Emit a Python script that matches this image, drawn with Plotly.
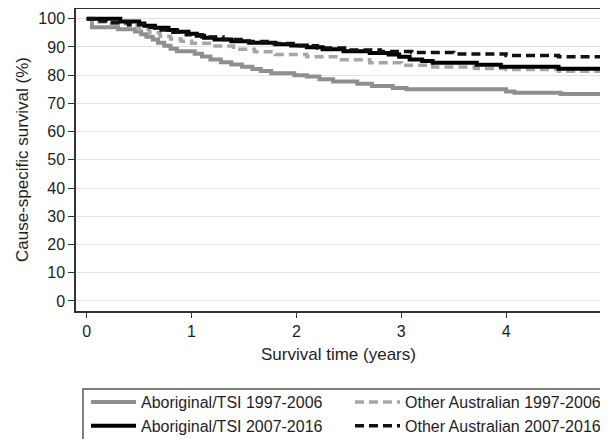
import plotly.graph_objects as go

# Kaplan-Meier style step curves (time in years, survival in %)
t_abor_9706 = [0, 0.05, 0.30, 0.46, 0.52, 0.57, 0.63, 0.68, 0.74, 0.80, 0.86, 1.03, 1.10, 1.18,
               1.28, 1.38, 1.48, 1.58, 1.66, 1.76, 1.98, 2.10, 2.22, 2.35, 2.58, 2.72, 2.92,
               3.05, 4.00, 4.08, 4.52, 5.0]
s_abor_9706 = [100, 97.0, 96.3, 95.5, 94.5, 93.6, 92.6, 91.5, 90.4, 89.4, 88.5, 87.6, 86.6, 85.6,
               84.6, 83.8, 83.0, 82.2, 81.5, 80.7, 80.0, 79.5, 78.6, 77.8, 77.0, 76.2, 75.5,
               75.0, 74.2, 73.8, 73.3, 73.3]

t_other_9706 = [0, 0.05, 0.2, 0.4, 0.5, 0.6, 0.7, 0.8, 0.9, 1.0, 1.2, 1.4, 1.6, 1.8, 2.1, 2.4,
                2.7, 3.0, 3.3, 3.7, 4.0, 4.5, 5.0]
s_other_9706 = [100, 98.8, 98.2, 97.4, 96.3, 95.0, 93.8, 92.8, 92.0, 91.3, 90.3, 89.2, 88.3, 87.3,
                86.5, 85.5, 84.4, 83.5, 82.9, 82.4, 82.0, 81.4, 81.0]

t_abor_0716 = [0, 0.32, 0.50, 0.55, 0.65, 0.78, 0.86, 0.97, 1.05, 1.12, 1.22, 1.38, 1.55, 1.80,
               1.95, 2.10, 2.25, 2.45, 2.70, 2.88, 2.98, 3.08, 3.20, 3.30, 3.72, 3.95, 4.50, 5.0]
s_abor_0716 = [100, 99.0, 98.3, 97.5, 96.8, 96.0, 95.4, 94.7, 94.0, 93.3, 92.6, 92.0, 91.5, 91.0,
               90.5, 89.9, 89.2, 88.5, 87.9, 87.3, 86.5, 85.6, 85.0, 84.4, 83.7, 83.0, 82.3, 82.3]

t_other_0716 = [0, 0.08, 0.2, 0.4, 0.55, 0.65, 0.8, 0.95, 1.1, 1.3, 1.5, 1.75, 2.0, 2.2, 2.5, 2.8,
                3.1, 3.5, 4.0, 4.5, 5.0]
s_other_0716 = [100, 99.2, 98.6, 97.9, 97.0, 96.0, 95.2, 94.3, 93.5, 92.6, 91.9, 91.2, 90.4, 89.6,
                88.9, 88.4, 88.0, 87.5, 87.0, 86.5, 86.0]

x_ticks = [0, 1, 2, 3, 4, 5]
y_ticks = [0, 10, 20, 30, 40, 50, 60, 70, 80, 90, 100]

FONT = "Liberation Sans, Arial, sans-serif"
OFF = 8                      # page body margin
W, H = 608 - OFF, 439 - OFF
PLOT_L, PLOT_T, PLOT_B, PLOT_R = 76, 9, 311, 608   # plot area in page pixels
L, T = PLOT_L - OFF, PLOT_T - OFF
B = H - (PLOT_B - OFF)
R = W - (PLOT_R - OFF)
PW, PH = W - L - R, H - T - B


def px_x(p):  # page pixel -> paper x
    return (p - PLOT_L) / PW


def px_y(p):  # page pixel -> paper y
    return (PLOT_B - p) / PH


fig = go.Figure()
fig.add_trace(go.Scatter(x=t_abor_9706, y=s_abor_9706, mode="lines", line_shape="hv",
                         name="Aboriginal/TSI 1997-2006",
                         line=dict(color="#8f8f8f", width=4)))
fig.add_trace(go.Scatter(x=t_other_9706, y=s_other_9706, mode="lines", line_shape="hv",
                         name="Other Australian 1997-2006",
                         line=dict(color="#a6a6a6", width=3.5, dash="9px,5px")))
fig.add_trace(go.Scatter(x=t_abor_0716, y=s_abor_0716, mode="lines", line_shape="hv",
                         name="Aboriginal/TSI 2007-2016",
                         line=dict(color="#000000", width=4)))
fig.add_trace(go.Scatter(x=t_other_0716, y=s_other_0716, mode="lines", line_shape="hv",
                         name="Other Australian 2007-2016",
                         line=dict(color="#111111", width=3.5, dash="9px,5px")))

x0 = -0.102
x1 = x0 + PW / 104.85
fig.update_layout(
    width=W, height=H,
    margin=dict(l=L, r=R, t=T, b=B, pad=0, autoexpand=False),
    plot_bgcolor="white", paper_bgcolor="white",
    font=dict(family=FONT, size=16, color="#1e1e1e"),
    xaxis=dict(range=[x0, x1], tickvals=x_ticks, ticks="outside", ticklen=5, tickwidth=1.2,
               tickcolor="#333333", showline=True, linecolor="#333333", linewidth=1.5,
               mirror=True, showgrid=False, zeroline=False,
               tickfont=dict(size=16, color="#1e1e1e")),
    yaxis=dict(range=[-3.55, 103.45], tickvals=y_ticks, ticks="outside", ticklen=6,
               tickwidth=1.2, tickcolor="#333333", showline=True, linecolor="#333333",
               linewidth=1.5, showgrid=True, gridcolor="#e3e3e3", gridwidth=1,
               zeroline=False, tickfont=dict(size=16, color="#1e1e1e")),
    showlegend=True,
    legend=dict(orientation="h", x=px_x(86), xanchor="left", y=px_y(443), yanchor="bottom",
                entrywidth=204, entrywidthmode="pixels", itemwidth=45,
                bgcolor="rgba(0,0,0,0)", borderwidth=0,
                font=dict(size=16, color="#1e1e1e"), traceorder="normal"),
    shapes=[dict(type="rect", xref="paper", yref="paper",
                 x0=px_x(83), x1=1.05, y0=px_y(389), y1=px_y(460),
                 line=dict(color="#555555", width=1.5), fillcolor="rgba(0,0,0,0)")],
    annotations=[
        dict(text="Survival time (years)", xref="paper", yref="paper",
             x=px_x(338.5), y=px_y(354), xanchor="center", yanchor="middle",
             showarrow=False, font=dict(size=17, color="#1e1e1e")),
        dict(text="Cause-specific survival (%)", xref="paper", yref="paper",
             x=px_x(22), y=px_y(160), xanchor="center", yanchor="middle", textangle=-90,
             showarrow=False, font=dict(size=17, color="#1e1e1e")),
        dict(text="5", xref="paper", yref="paper", x=px_x(611), y=px_y(330),
             xanchor="center", yanchor="middle", showarrow=False,
             font=dict(size=16, color="#1e1e1e")),
    ],
)

fig.write_html("out.html")
